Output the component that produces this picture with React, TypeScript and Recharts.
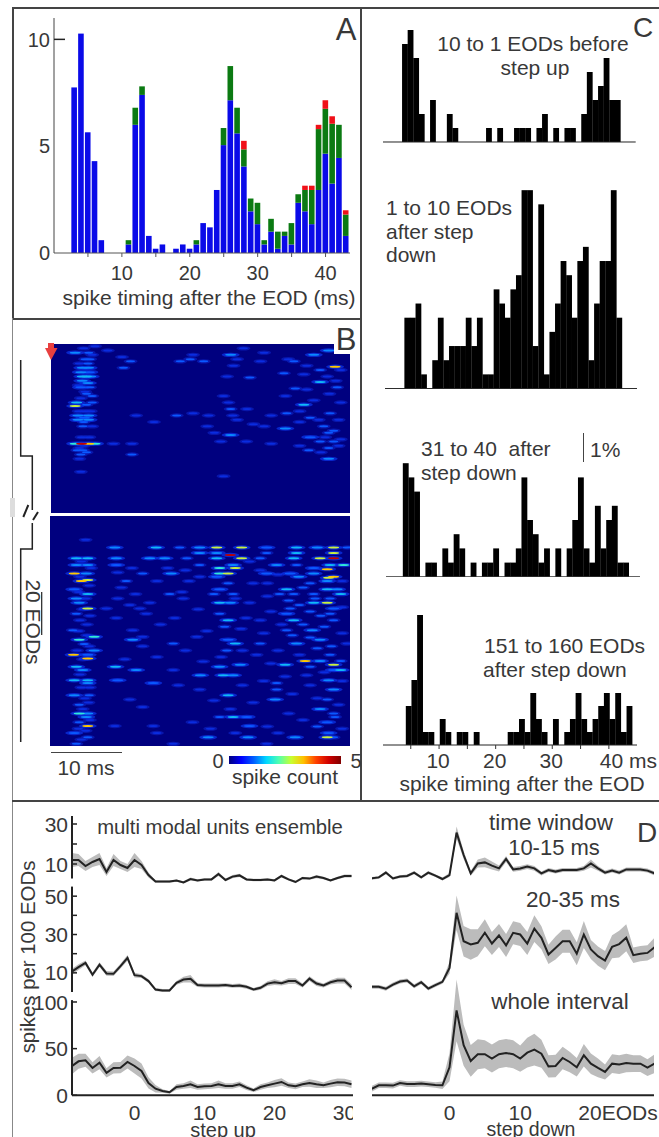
import React from 'react';
import {
  BarChart,
  Bar,
  XAxis,
  YAxis,
  ScatterChart,
  Scatter,
  ComposedChart,
  Area,
  Line,
  ReferenceLine,
} from 'recharts';

const FONT = '"Liberation Sans", Arial, sans-serif';
const INK = '#383838';

// Panel A: stacked spike counts per 1 ms bin, first bin at 3 ms
const timingBins = [3, 4, 5, 6, 7, 8, 9, 10, 11, 12, 13, 14, 15, 16, 17, 18, 19, 20, 21, 22, 23, 24, 25, 26, 27, 28, 29, 30, 31, 32, 33, 34, 35, 36, 37, 38, 39, 40, 41, 42, 43];
const blueCounts = [7.75, 10.27, 5.65, 4.3, 0.6, 0, 0, 0, 0.4, 6, 7.4, 0.8, 0.2, 0.4, 0, 0.2, 0.4, 0.2, 0.4, 1.4, 1.2, 2.95, 5.05, 7.15, 5.6, 4.05, 1.95, 1.35, 0.4, 1, 0.2, 0.8, 0.4, 2.35, 1.95, 1.35, 2.95, 4.65, 3.25, 4.45, 0.8];
const greenCounts = [0, 0, 0, 0, 0, 0, 0, 0, 0.2, 0.8, 0.4, 0, 0, 0, 0, 0, 0, 0, 0.2, 0, 0, 0, 0.8, 1.6, 1.2, 0.8, 0.6, 1, 0.2, 0.6, 0.8, 0.2, 1, 0.4, 1, 1.6, 2.85, 2.1, 2.8, 1.55, 1];
const redCounts = [0, 0, 0, 0, 0, 0, 0, 0, 0, 0, 0, 0, 0, 0, 0, 0, 0, 0, 0, 0, 0, 0, 0, 0, 0, 0.4, 0, 0, 0, 0, 0, 0, 0, 0, 0.2, 0.2, 0.2, 0.4, 0.35, 0, 0.2];

// Panel B: [ms, EOD row, spike count] of the visible spots
const upperSpots = [
  [3.4, 4, 1.5], [5.3, 4, 1.2], [4.8, 7, 1.2], [5.5, 7, 1], [5.2, 9, 1.2], [4.4, 11, 1.5], [5.3, 11, 1.8], [4.2, 13, 1.6], [5.4, 13, 1.4],
  [4.4, 15, 2], [5, 15, 2.2], [5.6, 15, 1.8], [4.4, 17, 1.6], [5.2, 18, 1.6], [4.2, 20, 1.3], [5.5, 20, 1], [5, 23, 1], [5.8, 24, 1],
  [3.6, 27, 2.2], [5.8, 27, 1], [5, 28, 1.2], [3.4, 28.6, 3.4], [3.8, 33, 1.5], [5.3, 33, 1.7], [4.7, 34, 1.3], [3.8, 35, 1.5], [5.3, 35, 1.5],
  [4.6, 36, 1.2], [4.5, 38, 1], [3.4, 46, 2.8], [4.3, 46, 4.6], [5.3, 46, 3.6], [6.2, 46, 2.6], [3.7, 49, 1.1], [4.5, 49, 1.1], [5, 50, 1],
  [4.2, 51, 1], [4, 53, 0.8], [4.2, 59, 0.6], [11.2, 8, 1], [10.2, 11, 1.2], [8, 3, 0.8], [10, 6, 0.8], [6.2, 1, 0.8], [8.8, 46, 0.7],
  [11.4, 46, 0.8], [11.4, 51, 1], [19.6, 7, 1.2], [18.2, 8, 1], [21.5, 8, 1.2], [20, 5, 0.8], [25.3, 5, 1.7], [26.2, 7, 0.9], [29.5, 8, 0.8],
  [34.2, 8, 1.2], [37, 5, 1.5], [39.1, 3, 1.5], [27.1, 2, 0.8], [40, 10.5, 3.6], [36, 10, 0.9], [37.9, 12, 1], [32.8, 13.5, 1], [25.7, 10, 0.8],
  [24.8, 15, 0.9], [28, 15.5, 1.1], [37.9, 17.5, 2], [34.4, 20.5, 1.1], [40.3, 20, 1.1], [36, 21, 0.9], [24.3, 24, 0.9], [35.6, 28, 2.4],
  [33.2, 32, 1.1], [25.3, 30, 1], [17.7, 33, 1], [22.2, 33, 0.9], [36.5, 34, 1.2], [39.3, 32, 1], [26.2, 35, 0.9], [33, 39, 1.7], [30, 38, 0.8],
  [25.3, 42, 1.9], [38.4, 38, 1.1], [36.5, 43, 1.3], [39.1, 41, 1.1], [39.8, 45, 1.2], [37.9, 45, 1], [23.9, 45, 0.8], [36.3, 49, 1], [39.1, 48, 1.2],
  [39.1, 53, 1.7], [24.3, 61, 0.8], [40.8, 27, 0.9], [40.8, 12, 0.8], [40.5, 35, 0.9], [39.8, 40, 1.2], [22, 38, 0.7], [23, 41, 0.7],
  // faint background streaks
  [4.6, 2, 0.7], [5.8, 5, 0.7], [4, 9, 0.7], [3.9, 19, 0.7], [4.8, 22, 0.7], [4.2, 25, 0.7], [5.6, 31, 0.8], [3.9, 31, 0.7], [4.8, 31, 0.8], [5.8, 38, 0.7],
  [4.3, 43, 0.6], [5.4, 43, 0.6], [4, 48, 0.8], [4.6, 47, 0.8], [30, 4, 0.7], [33.4, 7, 0.7], [35.6, 14, 0.7], [38.9, 15, 0.8], [40.1, 17, 0.7], [33, 24, 0.7],
  [37, 26, 0.8], [39.2, 23, 0.8], [35, 31, 0.8], [31, 33, 0.7], [27.6, 30, 0.7], [25, 27, 0.7], [25.6, 33, 0.8], [28.5, 37, 0.6], [35, 36, 0.7], [37.7, 35, 0.8],
  [38.6, 43, 0.8], [40.8, 44, 0.8], [40.5, 47, 0.8], [38, 50, 0.8], [35, 47, 0.7], [27.5, 45, 0.6], [31, 46, 0.6], [20, 32, 0.6], [14.5, 36, 0.6], [12, 33, 0.6],
];
const lowerSpots = [
  [5, 11, 0.8], [9.1, 14.5, 1.6], [14.9, 14.5, 2], [21, 14.5, 1.5], [23.4, 14.5, 3], [26.9, 14.5, 3.4], [30.4, 14.5, 1.4], [34.6, 14.5, 2.2], [37.5, 14.5, 1.6], [39.8, 14.5, 3.2], [18.2, 14.5, 1.2], [41.7, 14.5, 1],
  [21, 17, 1.8], [25.3, 18, 4.6], [30.4, 17, 1], [34.6, 17, 2], [39.8, 17, 3.4], [23.4, 17, 1.8],
  [3.7, 19.5, 2], [5.3, 19.5, 2], [9.3, 19.5, 1.5], [14, 19.5, 1.8], [16.1, 19.5, 1.8], [23.4, 19.5, 2.4], [26.9, 19.5, 3.4], [19.2, 19.5, 1], [34.2, 19.5, 2.2], [37.9, 19.5, 3.2], [39.8, 19.5, 4.6], [29.5, 19.5, 1.2],
  [3.7, 22.6, 1.8], [5.3, 22.6, 1.5], [9.3, 22.6, 1.4], [21, 22.6, 1], [25.7, 22.6, 1.5], [31.8, 22.6, 1.6], [34.6, 22.6, 1.1], [39.3, 22.6, 2], [41.2, 22.6, 2.6],
  [23.8, 24, 2.6], [26, 24, 3.4], [38.9, 24.5, 3.6], [37, 24, 1.4],
  [3.4, 26.5, 3.6], [5.1, 26.5, 1.5], [13, 26.5, 1], [17, 26.5, 1.7], [23.8, 26.5, 2.8], [25, 26.5, 3.4], [30.4, 26.5, 1.4], [33.7, 26.5, 1.4], [37, 26.5, 1.8],
  [34.9, 28, 1.6], [39.8, 28, 3.6], [39.1, 28.5, 3], [23.4, 28, 1.3],
  [4.4, 30, 3.6], [5.3, 29.5, 3.2], [38.9, 30, 1.5], [10.7, 30, 1],
  [3.4, 33.8, 1.4], [33.2, 33.8, 2.2], [38.9, 33.8, 2.2], [40.3, 33.8, 1.5], [23.8, 33.8, 1.4],
  [5.3, 36, 2.3], [40.8, 36, 2], [34.2, 36, 1.1], [25.7, 36, 1], [16.8, 36, 1],
  [3.7, 38, 1.8], [37.2, 38, 1.2], [18.7, 38, 0.9], [39.3, 38, 1.2],
  [23.8, 40, 2.4], [25.3, 40, 1.7], [37, 40, 2.2], [38.9, 40, 3], [4.1, 40, 1.5],
  [5.3, 42.6, 3], [7.9, 42.6, 0.9], [12.6, 42.6, 0.9], [33.7, 42.6, 1.2], [39.8, 42.6, 1.3],
  [3.7, 45, 1.2], [13.5, 45, 0.9], [23.8, 45, 1], [33.2, 45, 1.3], [39.3, 45, 1.1],
  [25, 48, 2.2], [34.2, 48, 2.2], [39.8, 48, 1], [29.5, 48, 0.9],
  [36.8, 52.6, 1.9], [3.2, 52.6, 1], [11.6, 52.6, 0.9], [33.2, 52.6, 1.2],
  [6.2, 55.7, 2.8], [13, 55.7, 0.8], [20.6, 55.7, 0.9],
  [4.1, 57, 2.5], [11.6, 57, 1.5], [37.9, 57, 1.8], [25, 57, 1.4],
  [26, 58.8, 2.2], [17.3, 58.8, 1], [29.5, 58.8, 1.2], [34.6, 58.8, 1.8], [41.7, 58.8, 0.8],
  [6.2, 62, 1.5], [24.8, 62, 1.1], [3.3, 64, 3.6], [5.3, 64, 1.4], [39.3, 64, 1], [5.3, 65.7, 3.6],
  [35.8, 66.8, 3.6], [37.9, 66.8, 1.9], [40.8, 66.8, 1.2], [33, 68.5, 2.2], [26.7, 68.5, 1.5], [39.8, 68.5, 3.2],
  [3.7, 69.5, 2.3], [9.2, 69.5, 2.4], [23.8, 69.5, 1.8], [36.5, 69.5, 1.2],
  [40.8, 71, 2], [39.8, 71, 1.3], [17.3, 71, 0.9], [4.6, 71, 1.6], [12.1, 71, 1.5],
  [21.1, 73.4, 1.9], [24.3, 73.4, 2.3], [25.7, 73.4, 1.6], [36, 73.4, 0.9],
  [3.4, 75.7, 2], [5.3, 75.7, 2], [9.5, 75.7, 1.3], [39.1, 75.7, 1.8], [14.5, 77, 1.3], [5.3, 77, 1.8], [31.8, 77, 1.2],
  [39.8, 80, 1.6], [31.8, 80, 1], [21, 80, 0.8], [3.4, 82.6, 1.8], [25, 82.6, 2.4], [5.5, 82.6, 1.2],
  [31.6, 84.6, 1.7], [38.9, 84.6, 1.2], [11.2, 84.6, 0.7], [4.1, 87, 1.2], [37.9, 89, 1.8], [25.3, 89, 0.8],
  [4.1, 91, 2.8], [5.3, 91, 1.5], [39.8, 91, 1], [25.7, 92.6, 2], [27.6, 92.6, 1.4], [23.8, 92.6, 1], [5.1, 92.6, 1.9], [40, 92.6, 1.1],
  [4.1, 95, 1.2], [38.9, 95, 1.3], [5.3, 96.8, 3.6], [28, 96.8, 1.4], [14.5, 96.8, 0.7], [9.1, 96.8, 0.8],
  [3.4, 100, 1.4], [39.1, 100, 1.3], [22.2, 102, 1.6], [27.8, 102, 1.5], [34.4, 102, 1.6], [38.9, 102, 3.2], [39.8, 102, 1.2], [5.3, 102, 1.1],
  [3.7, 105, 1], [17.3, 105, 0.8], [30.4, 105, 0.8],
  // faint background streaks
  [4.4, 21, 0.8], [5.8, 24, 0.8], [4.2, 28, 0.8], [5.5, 32, 0.8], [4, 35, 0.8], [5, 38, 0.8], [4.6, 43, 0.8], [5.6, 46, 0.8], [4.2, 48, 0.8], [5.2, 50, 0.8],
  [4, 53, 0.9], [5.2, 55, 0.9], [4.8, 59, 1], [5.5, 60, 0.9], [3.8, 62, 0.8], [4.6, 66, 0.8], [4.2, 73, 0.8], [5.6, 79, 0.8], [4.4, 79, 0.8], [4.9, 84, 0.9],
  [5.4, 86, 0.8], [4.6, 89, 0.8], [5.6, 94, 0.9], [4, 98, 0.8], [5, 99, 0.8], [4.4, 103, 0.8],
  [9.5, 26, 0.8], [11.5, 24, 0.8], [10, 33, 0.7], [9.5, 38, 0.8], [12, 36, 0.7], [11.2, 41, 0.8], [9.3, 47, 0.7], [14, 40, 0.7], [15, 30, 0.8], [16.5, 24, 0.8],
  [19.5, 30, 0.7], [19, 25, 0.8], [21, 28, 0.8], [18.5, 35, 0.7], [20.8, 43, 0.7], [17.5, 47, 0.7], [15.5, 50, 0.7], [13, 60, 0.8], [10.5, 66, 0.7], [15, 65, 0.7],
  [19, 62, 0.7], [22, 53, 0.7], [21.5, 67, 0.7], [18, 78, 0.7], [13, 88, 0.7], [15, 100, 0.7], [20, 95, 0.7], [23, 85, 0.8], [22.5, 98, 0.8],
  [28, 21, 0.9], [29.5, 25, 0.9], [32, 27, 0.8], [28.5, 31, 0.9], [30.5, 31, 0.8], [25, 31, 1], [23, 36, 1], [26, 38, 0.9], [28, 40, 0.9], [30.5, 37, 0.8],
  [32.2, 36, 1], [35.5, 33, 1], [36.5, 31, 1], [41, 30, 0.9], [37, 36, 1], [33.5, 39, 1], [35, 41, 1], [36.5, 44, 1], [38, 46, 1], [41, 42, 0.8],
  [31, 44, 0.8], [27.5, 47, 0.8], [24.5, 51, 1], [26.8, 52, 0.8], [30, 54, 0.8], [32.5, 50, 0.9], [35.5, 50, 1], [38.5, 51, 1], [41, 54, 0.8], [34, 55, 1],
  [36.5, 56, 1], [39.5, 60, 1], [37.5, 61, 1], [32, 62, 0.9], [29, 64, 0.8], [27, 62, 0.9], [24, 65, 0.9], [35, 64, 0.9], [31, 68, 0.8], [38.5, 72, 0.9],
  [33, 74, 0.8], [30, 76, 0.8], [27, 78, 0.7], [36.5, 78, 0.9], [41, 76, 0.8], [34, 82, 0.8], [37.5, 84, 0.9], [28.5, 86, 0.8], [40.5, 87, 0.8], [33.5, 91, 0.8],
  [35.5, 94, 0.8], [30.5, 97, 0.8], [37.5, 97, 1], [41, 98, 0.8], [26, 100, 0.8], [32, 100, 0.7],
];
const spotPalette = ['#00108f', '#0a2ce0', '#0a58ff', '#0a88ff', '#10b8f8', '#30e8d8', '#c8f040', '#ffc800', '#f02000', '#c00000'];
const colorBarStops = ['#00007f', '#0000ff', '#0060ff', '#00d8ff', '#50ffb0', '#c8ff30', '#ffc000', '#ff4000', '#d00000', '#800000'];

// Panel C: histogram levels per 1 ms bin
const beforeUp = [7, 8, 6, 2, 0, 3, 0, 0, 2, 1, 0, 0, 0, 0, 0, 1, 0, 1, 0, 0, 1, 1, 1, 0, 1, 2, 0, 1, 0, 1, 1, 0, 2, 5, 3, 4, 6, 3, 3];
const afterDown1 = [5, 5, 6, 1, 0, 2, 5, 2, 3, 3, 3, 5, 3, 5, 1, 1, 7, 6, 5, 7, 8, 14, 14, 3, 13, 1, 4, 6, 9, 8, 5, 9, 10, 2, 6, 9, 9, 14, 5];
const afterDown31 = [8, 7, 6, 0, 1, 1, 0, 2, 1, 3, 2, 0, 1, 0, 1, 1, 2, 0, 1, 1, 2, 7, 4, 3, 1, 2, 0, 2, 0, 2, 4, 7, 2, 1, 5, 2, 4, 5, 1, 1];
const afterDown151 = [3, 5, 10, 1, 1, 0, 2, 1, 0, 1, 1, 0, 1, 0, 0, 0, 0, 0, 1, 1, 2, 1, 4, 2, 1, 0, 2, 0, 1, 2, 4, 2, 1, 2, 3, 4, 2, 4, 1, 3];
const histTicks = [5, 10, 15, 20, 25, 30, 35, 40];

// Panel D: ensemble means and their spread, one value per EOD
const upWindowMean = [12, 12, 9, 11, 12.5, 6, 12, 9.5, 8, 12, 9.5, 4.5, 1.2, 1.2, 1.2, 1.7, 0.8, 2.5, 1.8, 2.3, 2.3, 5, 2, 3.7, 4.3, 2.3, 2, 2, 2.3, 1.8, 4, 2.3, 1, 3, 2.7, 3.7, 3, 1.8, 3, 4, 4];
const upWindowSem = [3.5, 3, 2.5, 2.5, 3, 2, 3, 2, 2, 3.5, 2, 1.2, 0.6, 0.6, 0.6, 0.6, 0.6, 0.7, 0.6, 0.6, 0.6, 1, 0.6, 0.8, 0.8, 0.6, 0.6, 0.6, 0.6, 0.6, 0.8, 0.6, 0.6, 0.6, 0.6, 0.8, 0.6, 0.6, 0.6, 0.8, 0.8];
const upMiddleMean = [10.5, 13, 15.2, 9, 14.3, 9.7, 9.5, 13.5, 17.8, 8.8, 8.3, 5.7, 1.3, 0.8, 0.8, 4.8, 6.5, 6.9, 3.6, 3.4, 3.4, 3.4, 3.6, 3.2, 3.4, 2.7, 1.3, 2.2, 4.4, 5.1, 4.6, 5.7, 5.7, 3.4, 7, 4.4, 3.4, 5.1, 6, 6, 2.5];
const upMiddleSem = [1.5, 1.5, 1.2, 1.2, 1.2, 1.2, 1.2, 1.2, 1.5, 1.2, 1, 1, 0.8, 0.8, 0.8, 1, 1.5, 2, 1, 1, 1, 1, 1, 1, 1, 1, 0.8, 1, 1.2, 1.5, 1.2, 1.5, 1.5, 1, 1.2, 1.2, 1, 1.2, 1.5, 1.5, 1.5];
const upWholeMean = [31, 36.4, 37.5, 29.3, 35, 24, 29.3, 29.6, 35.7, 31.4, 26, 13.2, 7.1, 4.6, 3.2, 8.9, 10, 11.8, 8.9, 9.6, 10, 11.8, 10, 10, 11.8, 8.2, 5.4, 8.9, 10.7, 12.5, 14.3, 10.7, 9.6, 11.8, 13.2, 11.8, 10.7, 12.5, 13.9, 13.6, 11.8];
const upWholeSem = [9, 8, 7, 6, 7, 5, 6, 6, 7, 8, 8, 6, 4, 2, 1.5, 3, 3, 4, 3, 3, 3, 4, 3, 3, 3, 2.5, 2, 3, 3, 4, 4, 3, 3, 3, 4, 4, 3, 4, 4, 4, 4];
const downWindowMean = [2.8, 3.3, 5.7, 2.8, 3.7, 4, 5.7, 3.3, 5.7, 4.2, 2.5, 4.5, 25.7, 14.5, 5.3, 10.3, 10.8, 9.2, 7.8, 12.5, 7.3, 7.8, 8.7, 7.8, 5.3, 7, 6.2, 7, 7, 7, 7.8, 10.3, 7.8, 5.7, 6.7, 5.7, 7.3, 7.3, 7.3, 6.7, 5.3];
const downWindowSem = [0.7, 0.7, 0.8, 0.7, 0.7, 0.7, 0.8, 0.7, 0.8, 0.7, 0.7, 1, 3, 2, 1.2, 2, 2.4, 2, 1.5, 1.5, 1.2, 1.2, 1.2, 1.2, 1, 1, 1, 1, 1, 1, 1.2, 2, 1.2, 1, 1, 1, 1, 1, 1, 1, 1];
const downMiddleMean = [2.7, 2.7, 1.7, 3.9, 5.5, 6, 3, 5.1, 1.8, 3.6, 5.3, 12.6, 41.3, 26.5, 24.8, 25.7, 30.9, 25.3, 29.5, 24.3, 30.9, 30, 25.3, 33.1, 28.3, 19.6, 23, 26.5, 26.5, 20, 30, 22.2, 18.7, 16.4, 23.6, 25, 28.3, 19.2, 20, 20.4, 23.4];
const downMiddleSem = [1, 1, 1, 1, 1, 1, 1, 1, 1, 1, 1, 3, 9, 8, 8, 7, 7, 6, 6, 6, 6, 6, 6, 7, 6, 5, 6, 6, 6, 6, 7, 5, 5, 5, 6, 7, 7, 4, 4, 4, 5];
const downWholeMean = [7, 10.7, 10.7, 10.4, 13.2, 12, 12, 12.5, 11.8, 11, 10.7, 30, 91, 53.6, 36.8, 44, 44, 39.3, 44, 45.4, 44, 39.3, 45.7, 49, 44.6, 31, 31.4, 40, 35.7, 30, 42.9, 33.9, 29.3, 25, 33.9, 32.9, 34.6, 33.9, 33.9, 29.6, 33.9];
const downWholeSem = [3, 3, 3, 3, 3, 3, 3, 3, 3, 3, 4, 15, 33, 22, 17, 16, 15, 15, 15, 15, 15, 14, 16, 17, 15, 12, 12, 12, 11, 10, 12, 11, 10, 8, 10, 10, 10, 9, 9, 9, 10];

const timingData = timingBins.map((ms, i) => ({ ms, blue: blueCounts[i], green: greenCounts[i], red: redCounts[i] }));

function spotColor(count: number) {
  return spotPalette[Math.min(spotPalette.length - 1, Math.floor(count * 2))];
}

const Txt = ({ x, y, size = 21, anchor = 'middle', rotate = 0, children, color = INK }: any) => {
  const tx = anchor === 'middle' ? '-50%' : anchor === 'end' ? '-100%' : '0';
  return (
    <div
      style={{
        position: 'absolute',
        left: x,
        top: y,
        transform: `translate(${tx}, -50%) rotate(${rotate}deg)`,
        fontFamily: FONT,
        fontSize: size,
        color,
        whiteSpace: 'pre',
        lineHeight: 1,
      }}
    >
      {children}
    </div>
  );
};

const Rule = ({ x, y, w, h, color = '#444' }: any) => (
  <div style={{ position: 'absolute', left: x, top: y, width: w, height: h, background: color }} />
);

// Tick with its mark on the plot side of the axis, as in the figure
const inwardTick = (shown: number[], size: number, markLen: number, marked?: number[]) => (props: any) => {
  const { x, y, payload } = props;
  const hasMark = !marked || marked.includes(payload.value);
  return (
    <g>
      {hasMark && <line x1={x} x2={x + markLen} y1={y} y2={y} stroke="#222" strokeWidth={1.5} />}
      {shown.includes(payload.value) && (
        <text x={x - 4} y={y + size * 0.36} textAnchor="end" fontSize={size} fontFamily={FONT} fill={INK}>
          {payload.value}
        </text>
      )}
    </g>
  );
};

// Bar of a set pixel width, centred on the slot the scale gave it
const fixedBar = (w: number, fill: string) => (p: any) =>
  p.height > 0 ? <rect x={p.x + p.width / 2 - w / 2} y={p.y} width={w} height={p.height} fill={fill} /> : <g />;

const TimingPanel = () => (
  <div style={{ position: 'absolute', left: 0, top: 18 }}>
    <BarChart width={350} height={278} data={timingData} margin={{ top: 0, right: 0, bottom: 0, left: 0 }}>
      <XAxis
        dataKey="ms"
        type="number"
        domain={[0, 43.6]}
        ticks={[5, 10, 15, 20, 25, 30, 35, 40]}
        height={43}
        tickSize={4}
        tickMargin={9}
        stroke="#555"
        tick={{ fontSize: 20, fontFamily: FONT, fill: INK }}
        tickFormatter={(v: number) => (v % 10 === 0 ? String(v) : '')}
      />
      <YAxis
        type="number"
        domain={[0, 11]}
        ticks={[0, 5, 10]}
        width={54}
        tickSize={0}
        tickMargin={0}
        stroke="#444"
        tick={inwardTick([0, 5, 10], 20, 11, [10])}
        interval={0}
      />
      <Bar dataKey="blue" stackId="a" fill="#0a0ae8" shape={fixedBar(5.6, '#0a0ae8')} isAnimationActive={false} />
      <Bar dataKey="green" stackId="a" fill="#0b7a12" shape={fixedBar(5.6, '#0b7a12')} isAnimationActive={false} />
      <Bar dataKey="red" stackId="a" fill="#f01018" shape={fixedBar(5.6, '#f01018')} isAnimationActive={false} />
    </BarChart>
  </div>
);

const HeatPanel = ({ spots, top, left, width, height, rows }: any) => {
  const data = [...spots]
    .sort((a: number[], b: number[]) => a[2] - b[2])
    .map((s: number[]) => ({ ms: s[0], row: s[1], count: s[2] }));
  const halo = (p: any) => (
    <ellipse cx={p.cx} cy={p.cy} rx={p.payload.count > 1.2 ? 9 : 7} ry={2.2} fill={p.payload.count > 1.2 ? '#0a30e0' : '#0a1cb8'} opacity={0.8} />
  );
  const core = (p: any) => (
    <ellipse cx={p.cx} cy={p.cy} rx={p.payload.count > 1.2 ? 5.5 : 4.5} ry={1} fill={spotColor(p.payload.count)} />
  );
  return (
    <div style={{ position: 'absolute', left, top, width, height, background: '#00007f', overflow: 'hidden' }}>
      <div style={{ filter: 'blur(0.7px)' }}>
        <ScatterChart width={width} height={height} margin={{ top: 0, right: 0, bottom: 0, left: 0 }}>
          <XAxis dataKey="ms" type="number" domain={[0, 42.1]} hide />
          <YAxis dataKey="row" type="number" domain={[0, rows]} reversed hide />
          <Scatter data={data} shape={halo} isAnimationActive={false} />
          <Scatter data={data} shape={core} isAnimationActive={false} />
        </ScatterChart>
      </div>
    </div>
  );
};

const Hist = ({ values, firstMs, left, right, firstCenter, binW, level, baseline, maxLevel, withTicks }: any) => {
  const data = values.map((v: number, i: number) => ({ ms: firstMs + i, v }));
  const domain = [firstMs - (firstCenter - left) / binW, firstMs + (right - firstCenter) / binW];
  const plotH = maxLevel * level;
  const axisH = withTicks ? 44 : 1;
  const histTick = (p: any) => {
    const label = p.payload.value % 10 === 0 ? String(p.payload.value) : '';
    return (
      <g>
        <line x1={p.x} x2={p.x} y1={p.y - 8} y2={p.y - 4} stroke="#333" />
        {label && (
          <text
            x={label === '40' ? p.x - 9 : p.x - 1}
            y={p.y + 15}
            textAnchor={label === '40' ? 'start' : 'middle'}
            fontSize={21}
            fontFamily={FONT}
            fill={INK}
          >
            {label === '40' ? '40 ms' : label}
          </text>
        )}
      </g>
    );
  };
  return (
    <div style={{ position: 'absolute', left, top: baseline - plotH }}>
      <BarChart width={right - left + 22} height={plotH + axisH} data={data} margin={{ top: 0, right: 22, bottom: 0, left: 0 }}>
        <XAxis
          dataKey="ms"
          type="number"
          domain={domain}
          ticks={withTicks ? histTicks : []}
          height={axisH}
          stroke="#222"
          tickLine={false}
          interval={0}
          allowDataOverflow
          tick={withTicks ? histTick : false}
        />
        <YAxis type="number" domain={[0, maxLevel]} hide />
        <Bar dataKey="v" fill="#000" shape={fixedBar(binW + 0.2, '#000')} isAnimationActive={false} />
      </BarChart>
    </div>
  );
};

const Trace = ({ mean, sem, firstX, left, right, xZero, pxX, bottomPx, pxY, yMax, axisFrom, axisTo, yTicks, yShown, xTicks, xFormat }: any) => {
  const data = mean.map((m: number, i: number) => ({ x: firstX + i, m, band: [Math.max(m - sem[i], 0), m + sem[i]] }));
  const domain = [(left - xZero) / pxX, (right - xZero) / pxX];
  const plotH = yMax * pxY;
  const axisW = yTicks ? 50 : 0;
  const axisH = xTicks ? 34 : 0;
  return (
    <div style={{ position: 'absolute', left: left - axisW, top: bottomPx - plotH }}>
      <ComposedChart
        width={right - left + axisW}
        height={plotH + axisH}
        data={data}
        margin={{ top: 0, right: 0, bottom: 0, left: 0 }}
      >
        {xTicks ? (
          <XAxis
            dataKey="x"
            type="number"
            domain={domain}
            ticks={xTicks}
            height={axisH}
            stroke="#222"
            strokeWidth={2}
            tickLine={false}
            tickMargin={4}
            interval={0}
            allowDataOverflow
            tickFormatter={xFormat}
            tick={{ fontSize: 21, fontFamily: FONT, fill: INK }}
          />
        ) : (
          <XAxis dataKey="x" type="number" domain={domain} hide allowDataOverflow />
        )}
        {yTicks ? (
          <YAxis
            type="number"
            domain={[0, yMax]}
            ticks={yTicks}
            width={axisW}
            axisLine={false}
            tickLine={false}
            tickSize={0}
            tickMargin={0}
            interval={0}
            allowDataOverflow
            tick={inwardTick(yShown, 21, 5)}
          />
        ) : (
          <YAxis type="number" domain={[0, yMax]} hide allowDataOverflow />
        )}
        <Area dataKey="band" stroke="none" fill="#bcbcbc" fillOpacity={1} type="linear" isAnimationActive={false} />
        <Line dataKey="m" stroke="#222" strokeWidth={2} dot={false} type="linear" isAnimationActive={false} />
        {yTicks && (
          <ReferenceLine
            segment={[{ x: domain[0], y: axisFrom }, { x: domain[0], y: axisTo }]}
            stroke="#222"
            strokeWidth={2}
          />
        )}
      </ComposedChart>
    </div>
  );
};

const LEFT_D = { firstX: -9, left: 71.5, right: 352.5, xZero: 134, pxX: 7 };
const RIGHT_D = { firstX: -11, left: 372, right: 654, xZero: 449.5, pxX: 7.07 };
const TOP_D = { bottomPx: 884, pxY: 2, yMax: 36 };
const MID_D = { bottomPx: 992.5, pxY: 1.917, yMax: 60 };

const App = () => (
  <div style={{ position: 'absolute', left: 0, top: 0, width: 659, height: 1137, background: '#fff', overflow: 'hidden' }}>
    <TimingPanel />
    <HeatPanel spots={upperSpots} top={344} left={50.5} width={299} height={169} rows={78} />
    <HeatPanel spots={lowerSpots} top={516} left={50} width={300} height={230} rows={106} />

    <Hist values={beforeUp} firstMs={4} left={383.3} right={636} firstCenter={405.5} binW={5.6} level={14} baseline={142.3} maxLevel={9} />
    <Hist values={afterDown1} firstMs={4} left={385} right={637} firstCenter={407.5} binW={5.58} level={14.17} baseline={388.3} maxLevel={15} />
    <Hist values={afterDown31} firstMs={4} left={386} right={640} firstCenter={405.5} binW={5.65} level={14.2} baseline={576.3} maxLevel={9} />
    <Hist values={afterDown151} firstMs={4.6} left={383} right={637} firstCenter={408.5} binW={5.66} level={13} baseline={745.3} maxLevel={11} withTicks />

    <Trace mean={upWindowMean} sem={upWindowSem} {...LEFT_D} {...TOP_D} axisFrom={2.8} axisTo={34} yTicks={[10, 20, 30]} yShown={[10, 30]} />
    <Trace mean={upMiddleMean} sem={upMiddleSem} {...LEFT_D} {...MID_D} axisFrom={0} axisTo={55} yTicks={[10, 20, 30, 40, 50]} yShown={[10, 30, 50]} />
    <Trace mean={upWholeMean} sem={upWholeSem} {...LEFT_D} bottomPx={1095} pxY={0.933} yMax={130} axisFrom={0} axisTo={102} yTicks={[0, 50, 100]} yShown={[0, 50, 100]} xTicks={[0, 10, 20, 30]} xFormat={(v: number) => String(v)} />
    <Trace mean={downWindowMean} sem={downWindowSem} {...RIGHT_D} {...TOP_D} />
    <Trace mean={downMiddleMean} sem={downMiddleSem} {...RIGHT_D} {...MID_D} />
    <Trace mean={downWholeMean} sem={downWholeSem} {...RIGHT_D} bottomPx={1095} pxY={0.933} yMax={130} xTicks={[0, 10, 20]} xFormat={(v: number) => (v === 20 ? '' : String(v))} />

    {/* frame lines */}
    <Rule x={12} y={7} w={647} h={1.5} />
    <Rule x={12} y={7} w={1.5} h={311} />
    <Rule x={12} y={318} w={348} h={1.5} />
    <Rule x={12} y={318} w={1} h={819} color="#888" />
    <Rule x={360} y={7} w={1.5} h={793} />
    <Rule x={12} y={800} w={647} h={1.5} />
    <Rule x={352.5} y={810} w={18} h={327} color="#fff" />

    {/* panel A */}
    <Txt x={346} y={29} size={31}>A</Txt>
    <Txt x={209} y={297}>spike timing after the EOD (ms)</Txt>

    {/* panel B */}
    <div style={{ position: 'absolute', left: 334, top: 340, width: 24, height: 14, background: '#fff' }} />
    <Txt x={346} y={339} size={31}>B</Txt>
    <svg style={{ position: 'absolute', left: 0, top: 320 }} width={60} height={440}>
      <path d="M20.7 40 V136 H32.3 V190 M32.3 203 V229 H20.7 V422" fill="none" stroke="#222" strokeWidth={1.5} />
      <path d="M45 28 L57.5 28 L51 40 Z" fill="#e84040" />
      <rect x={48} y={23} width={6} height={6} fill="#e84040" />
      <rect x={10} y={178} width={5} height={19} fill="#ddd" />
      <path d="M23.3 197 L28.3 185 M33 200 L38 192" stroke="#222" strokeWidth={2} />
      <path d="M41.7 272 V315" stroke="#222" strokeWidth={1.2} />
    </svg>
    <Txt x={33} y={622} rotate={90}>20 EODs</Txt>
    <Rule x={50.7} y={752} w={71} h={1.3} color="#444" />
    <Txt x={86} y={767}>10 ms</Txt>
    <div
      style={{
        position: 'absolute',
        left: 229.3,
        top: 755.7,
        width: 112,
        height: 8,
        background: `linear-gradient(to right, ${colorBarStops.join(', ')})`,
      }}
    />
    <Txt x={218} y={761} size={20}>0</Txt>
    <Txt x={356} y={761} size={20}>5</Txt>
    <Txt x={285} y={776}>spike count</Txt>

    {/* panel C */}
    <Txt x={643} y={28} size={28}>C</Txt>
    <Txt x={533} y={43}>10 to 1 EODs before</Txt>
    <Txt x={535} y={67}>step up</Txt>
    <Txt x={386} y={207} anchor="start">1 to 10 EODs</Txt>
    <Txt x={386} y={231} anchor="start">after step</Txt>
    <Txt x={386} y={254} anchor="start">down</Txt>
    <Txt x={421} y={448} anchor="start">{'31 to 40  after'}</Txt>
    <Txt x={421} y={472} anchor="start">step down</Txt>
    <Rule x={583} y={433} w={1.3} h={29} color="#444" />
    <Txt x={590} y={449} anchor="start">1%</Txt>
    <Txt x={484} y={645} anchor="start">151 to 160 EODs</Txt>
    <Txt x={483} y={669} anchor="start">after step down</Txt>
    <Txt x={522} y={783}>spike timing after the EOD</Txt>

    {/* panel D */}
    <Txt x={220} y={827} size={20.3}>multi modal units ensemble</Txt>
    <Txt x={551} y={823} size={22.5}>time window</Txt>
    <Txt x={554} y={848} size={22}>10-15 ms</Txt>
    <Txt x={573} y={900} size={22.5}>20-35 ms</Txt>
    <Txt x={560} y={1002} size={22.5}>whole interval</Txt>
    <Txt x={647} y={833} size={28}>D</Txt>
    <Txt x={28} y={957} size={20.4} rotate={-90}>spikes per 100 EODs</Txt>
    <Txt x={223} y={1130} size={20}>step up</Txt>
    <Txt x={531} y={1130} size={19.5}>step down</Txt>
    <Txt x={618} y={1112} size={21}>20EODs</Txt>
  </div>
);

export default App;
